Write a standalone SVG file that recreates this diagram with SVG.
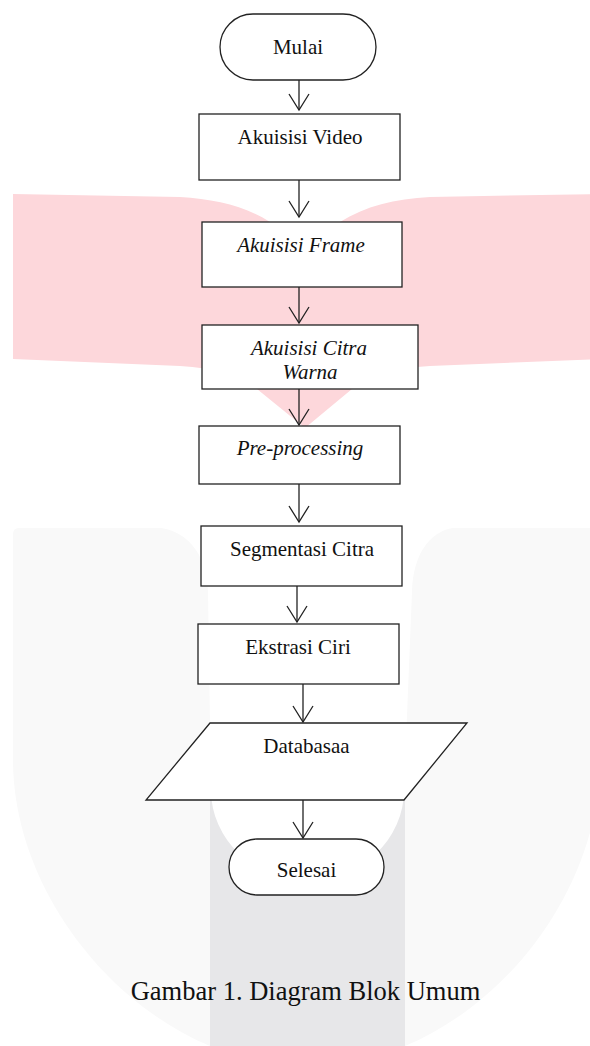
<svg xmlns="http://www.w3.org/2000/svg" width="590" height="1046" viewBox="0 0 590 1046">
<style>
.box{fill:#fff;stroke:#222;stroke-width:1.3}
.t{font-family:"Liberation Serif","Times New Roman",serif;font-size:21px;fill:#111;text-anchor:middle}
.i{font-style:italic}
.cap{font-family:"Liberation Serif","Times New Roman",serif;font-size:26.5px;fill:#111;text-anchor:middle}
.ln{stroke:#222;stroke-width:1.3;fill:none;marker-end:url(#arr)}
</style>
<defs>
<marker id="arr" viewBox="-18 -11 20 22" refX="0" refY="0" markerWidth="20" markerHeight="22" markerUnits="userSpaceOnUse" orient="auto">
<path d="M-16,-10 L0,0 L-16,10" fill="none" stroke="#222" stroke-width="1.3"/>
</marker>
</defs>
<g id="watermark">
<path d="M13,194 L180,197 C215,199 245,206 270,222 C285,232 298,240 305,244 C312,240 325,232 340,222 C365,206 395,199 430,197 L600,194 L600,359 L430,366 C395,368 370,376 352,389 L305,428 L257,389 C240,376 215,368 180,366 L13,359 Z" fill="#fdd7db"/>
<path d="M13,534 Q13,528 19,528 L600,528 L600,760 C600,880 515,1000 405,1046 L210,1046 C100,1000 13,880 13,760 Z" fill="#f9f9f9"/>
<rect x="210" y="600" width="195" height="446" fill="#e7e7e9"/>
<path d="M150,527 C185,527 207,552 208,592 L211,790 A96 90 0 0 0 404,790 L412,592 C413,552 432,527 462,527 Z" fill="#fff"/>
</g>
<g id="connectors">
<line class="ln" x1="299" y1="80" x2="299" y2="110"/>
<line class="ln" x1="299" y1="180" x2="299" y2="217"/>
<line class="ln" x1="299" y1="287" x2="299" y2="323"/>
<line class="ln" x1="299" y1="389" x2="299" y2="425"/>
<line class="ln" x1="299" y1="484" x2="299" y2="522"/>
<line class="ln" x1="297" y1="586" x2="297" y2="622"/>
<line class="ln" x1="303" y1="684" x2="303" y2="722"/>
<line class="ln" x1="303" y1="800" x2="303" y2="838"/>
</g>
<g id="mulai">
<rect class="box" x="220" y="14" width="156" height="66" rx="33"/>
<text class="t" x="298" y="54">Mulai</text>
</g>
<g id="akuisisi-video">
<rect class="box" x="199" y="114" width="201" height="66"/>
<text class="t" x="300" y="144">Akuisisi Video</text>
</g>
<g id="akuisisi-frame">
<rect class="box" x="202" y="222" width="200" height="65"/>
<text class="t i" x="301" y="252">Akuisisi Frame</text>
</g>
<g id="akuisisi-citra-warna">
<rect class="box" x="202" y="325" width="216" height="64"/>
<text class="t i" x="309" y="355">Akuisisi Citra</text>
<text class="t i" x="310" y="379">Warna</text>
</g>
<g id="pre-processing">
<rect class="box" x="199" y="426" width="201" height="58"/>
<text class="t i" x="300" y="455">Pre-processing</text>
</g>
<g id="segmentasi-citra">
<rect class="box" x="201" y="526" width="201" height="60"/>
<text class="t" x="302" y="556">Segmentasi Citra</text>
</g>
<g id="ekstrasi-ciri">
<rect class="box" x="198" y="624" width="201" height="60"/>
<text class="t" x="298" y="654">Ekstrasi Ciri</text>
</g>
<g id="databasaa">
<polygon class="box" points="210,723 467,723 404,800 146,800"/>
<text class="t" x="306.5" y="753">Databasaa</text>
</g>
<g id="selesai">
<rect class="box" x="229" y="839" width="155" height="56" rx="28"/>
<text class="t" x="306.5" y="877">Selesai</text>
</g>
<text class="cap" x="305.5" y="1000">Gambar 1. Diagram Blok Umum</text>
</svg>
